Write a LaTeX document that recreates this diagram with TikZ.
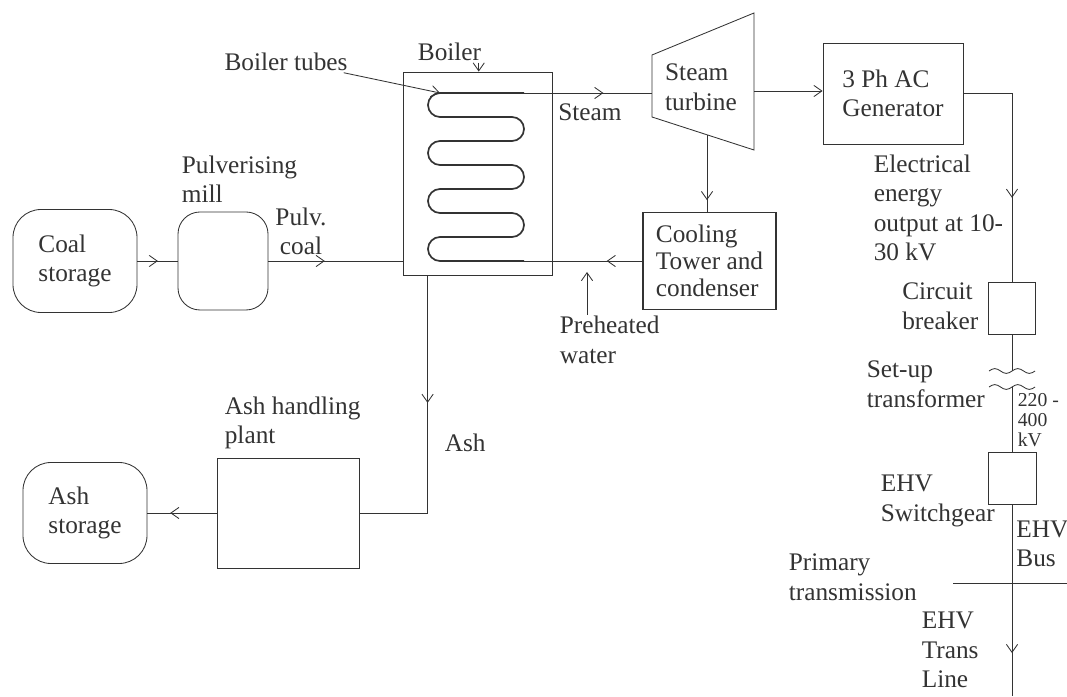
\documentclass[tikz,border=0pt]{standalone}
\usepackage{fontspec}
\setmainfont{Liberation Serif}
\usetikzlibrary{arrows.meta,decorations.markings}

\begin{document}
\begin{tikzpicture}[
    >={Straight Barb[length=2mm,width=2.8mm]},
    line width=0.6pt,
    color=black!80,
    font=\fontsize{18}{21}\selectfont,
    storebox/.style={draw, rounded corners=0.7cm, align=left},
    plantbox/.style={draw, align=left},
    lbl/.style={align=left, inner sep=1pt},
    smalllbl/.style={align=left, inner sep=1pt, font=\fontsize{14}{14.5}\selectfont},
    coil/.style={line width=1.2pt},
    flow/.style={postaction={decorate, decoration={markings, mark=at position #1 with {\arrow{>}}}}},
]

\useasboundingbox (0,0) rectangle (26.675,17.4);

\node[storebox, minimum width=3.1cm, minimum height=2.575cm] (coalstore) at (1.875, 10.875) {Coal\\storage};
\node[storebox, rounded corners=0.55cm, minimum width=2.25cm, minimum height=2.45cm] (mill) at (5.575, 10.875) {};
\node[plantbox, minimum width=3.725cm, minimum height=5.075cm] (boiler) at (11.9375, 13.0625) {};
\node[plantbox, minimum width=3.5cm, minimum height=2.525cm] (generator) at (22.325, 15.0625) {3 Ph AC\\Generator};
\node[plantbox, line width=1.2pt, font=\fontsize{18}{19}\selectfont, minimum width=3.325cm, minimum height=2.425cm] (cooling) at (17.7375, 10.875) {Cooling\\Tower and\\condenser};
\node[plantbox, minimum width=1.175cm, minimum height=1.3cm] (breaker) at (25.3, 9.7) {};
\node[plantbox, minimum width=1.2cm, minimum height=1.3cm] (switchgear) at (25.3, 5.45) {};
\node[plantbox, minimum width=3.55cm, minimum height=2.75cm] (ashplant) at (7.2, 4.575) {};
\node[storebox, minimum width=3.1cm, minimum height=2.525cm] (ashstore) at (2.125, 4.575) {Ash\\storage};

\node[lbl, anchor=west] (milllbl) at (4.5, 12.925) {Pulverising\\mill};
\node[lbl, align=center] (pulvlbl) at (7.525, 11.6125) {Pulv.\\coal};
\node[lbl] (boilerlbl) at (11.2375, 16.1) {Boiler};
\node[lbl] (tubeslbl) at (7.15, 15.85) {Boiler tubes};
\node[lbl] (steamlbl) at (14.75, 14.6) {Steam};
\node[lbl] (turbine) at (17.525, 15.2125) {Steam\\turbine};
\node[lbl, anchor=west] (outputlbl) at (21.8, 12.2) {Electrical\\energy\\output at 10-\\30 kV};
\node[lbl, anchor=east] (breakerlbl) at (24.5, 9.75) {Circuit\\breaker};
\node[lbl, anchor=west] (xfmrlbl) at (21.625, 7.8) {Set-up\\transformer};
\node[smalllbl, anchor=west] (hvlbl) at (25.4, 6.9) {220 -\\400\\kV};
\node[lbl, anchor=west] (switchlbl) at (21.975, 4.875) {EHV\\Switchgear};
\node[lbl, anchor=west, inner sep=0pt] (buslbl) at (25.4, 3.8) {EHV\\Bus};
\node[lbl, anchor=west] (primarylbl) at (19.675, 2.975) {Primary\\transmission};
\node[lbl, anchor=south west] (translbl) at (23.0, 0.15) {EHV\\Trans\\Line};
\node[lbl, anchor=west] (ashplantlbl) at (5.575, 6.825) {Ash handling\\plant};
\node[lbl, anchor=west] (ashlbl) at (11.075, 6.325) {Ash};
\node[lbl, anchor=west] (preheatlbl) at (13.95, 8.9) {Preheated\\water};

\coordinate (coiltop) at (11.0, 15.075);
\coordinate (coilout) at (13.1, 15.075);
\coordinate (coilin) at (13.1, 10.875);
\coordinate (tbin) at (16.3, 15.075);
\coordinate (tbout) at (18.85, 15.125);
\coordinate (tbbot) at (17.675, 14.03);
\coordinate (xfmrtop) at (25.3, 8.125);
\coordinate (xfmrbot) at (25.3, 7.725);
\coordinate (watertip) at (14.675, 10.6);
\coordinate (busleft) at (23.825, 2.825);
\coordinate (busright) at (26.675, 2.825);
\coordinate (lineend) at (25.3, 0);

\draw (16.3, 16.025) -- (18.85, 17.075) -- (18.85, 13.65) -- (16.3, 14.475) -- cycle;

\draw[coil] (coilout) -- (coiltop)
    arc[start angle=90, end angle=270, radius=0.3] -- ++(1.8,0)
    arc[start angle=90, end angle=-90, radius=0.3] -- ++(-1.8,0)
    arc[start angle=90, end angle=270, radius=0.3] -- ++(1.8,0)
    arc[start angle=90, end angle=-90, radius=0.3] -- ++(-1.8,0)
    arc[start angle=90, end angle=270, radius=0.3] -- ++(1.8,0)
    arc[start angle=90, end angle=-90, radius=0.3] -- ++(-1.8,0)
    arc[start angle=90, end angle=270, radius=0.3] -- (coilin);

\draw (xfmrtop) ++(-0.575,0) sin ++(0.144,0.06) cos ++(0.144,-0.06) sin ++(0.144,-0.06) cos ++(0.144,0.06)
    sin ++(0.144,0.06) cos ++(0.144,-0.06) sin ++(0.144,-0.06) cos ++(0.144,0.06);
\draw (xfmrbot) ++(-0.575,0) sin ++(0.144,0.06) cos ++(0.144,-0.06) sin ++(0.144,-0.06) cos ++(0.144,0.06)
    sin ++(0.144,0.06) cos ++(0.144,-0.06) sin ++(0.144,-0.06) cos ++(0.144,0.06);

\draw[flow=0.51] (coalstore.east) -- (mill.west);
\draw[flow=0.42] (mill.east) -- (mill.east -| boiler.west);
\draw[->] ([xshift=-3pt]boilerlbl.south east) -- ([xshift=-3pt]boilerlbl.south east |- boiler.north);
\draw[->] ([xshift=-4pt]tubeslbl.south east) -- (coiltop);
\draw[flow=0.62] (coilout) -- (tbin);
\draw[->] (tbout) -- (tbout -| generator.west);
\draw[flow=0.85] (tbbot) -- (tbbot |- cooling.north);
\draw[flow=0.3] (cooling.west) -- (coilin);
\draw[->] (preheatlbl.north -| watertip) -- (watertip);
\draw[flow=0.646] (generator.east) -| (breaker.north);
\draw (breaker.south) -- (xfmrtop);
\draw (xfmrbot) -- (switchgear.north);
\draw (busleft) -- (busright);
\draw[flow=0.776] (switchgear.south) -- (lineend);
\draw[flow=0.417] ([xshift=0.625cm]boiler.south west) |- (ashplant.east);
\draw[flow=0.67] (ashplant.west) -- (ashstore.east);

\end{tikzpicture}
\end{document}
